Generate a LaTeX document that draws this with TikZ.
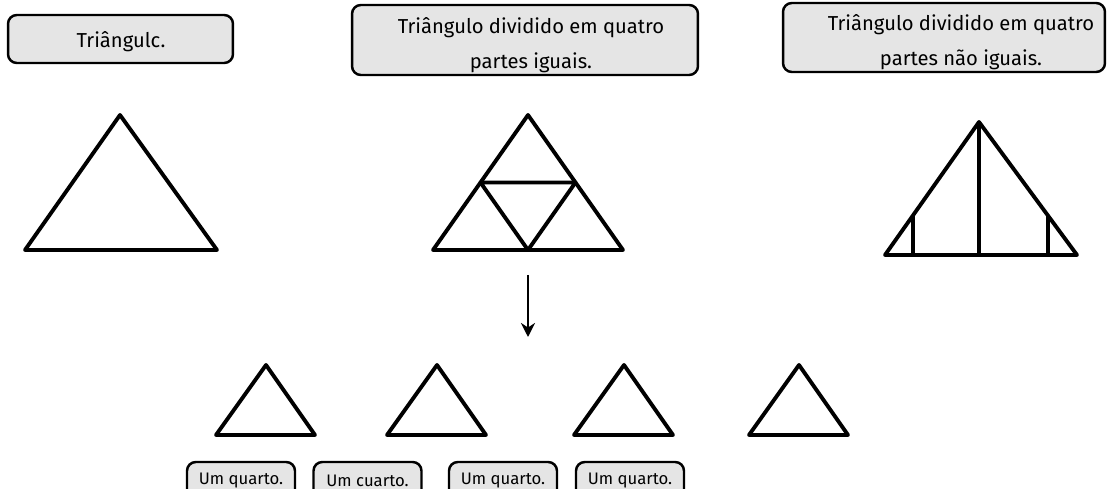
\documentclass[tikz,border=0pt]{standalone}
\usepackage{fontspec}
\setmainfont{Fira Sans}
\usetikzlibrary{calc, arrows.meta}

\begin{document}
\begin{tikzpicture}[x=0.02cm, y=-0.02cm, line width=2.2pt, line join=round]
    \tikzset{
      caixa/.style={draw=black, line width=1.4pt, fill=black!10, rounded corners=5pt, inner sep=0pt},
      rotulo/.style={font=\fontsize{11.5}{20}\selectfont, align=center, inner sep=0pt},
      rotulinho/.style={font=\fontsize{9.5}{11}\selectfont, inner sep=0pt},
      seta/.style={line width=1pt, -{Stealth[length=8pt, width=8pt]}},
    }
    \useasboundingbox (0,0) rectangle (1107,489);
    \clip (0,0) rectangle (1107,489);

    % caixas de cima
    \node [caixa, minimum width=4.5cm, minimum height=0.96cm]  (caixaA) at (120.5,39) {};
    \node [caixa, minimum width=6.92cm, minimum height=1.4cm]  (caixaB) at (525,40) {};
    \node [caixa, minimum width=6.44cm, minimum height=1.38cm] (caixaC) at (944,37.5) {};
    \node [rotulo] (textoA) at (121,42) {Triângulc.};
    \node [rotulo] (textoB) at (531,45) {Triângulo dividido em quatro\\partes iguais.};
    \node [rotulo] (textoC) at (961,42) {Triângulo dividido em quatro\\partes não iguais.};

    % triangulo inteiro
    \coordinate (A1) at (25,250);
    \coordinate (A2) at (120,115);
    \coordinate (A3) at (217,250);
    \draw (A1) -- (A2) -- (A3) -- cycle;

    % quatro partes iguais
    \coordinate (B1) at (433,250);
    \coordinate (B2) at (528,115);
    \coordinate (B3) at (623,250);
    \coordinate (B12) at ($ (B1)!.5!(B2) $);
    \coordinate (B23) at ($ (B2)!.5!(B3) $);
    \coordinate (B13) at ($ (B1)!.5!(B3) $);
    \draw (B1) -- (B2) -- (B3) -- cycle;
    \draw (B12) -- (B23) -- (B13) -- cycle;

    % quatro partes nao iguais
    \coordinate (C1) at (885,255);
    \coordinate (C2) at (979,122);
    \coordinate (C3) at (1077,255);
    \coordinate (C12) at ($ (C1)!.3!(C2) $);
    \coordinate (C32) at ($ (C3)!.3!(C2) $);
    \draw (C1) -- (C2) -- (C3) -- cycle;
    \draw (C2) -- (C2 |- C1);
    \draw (C12) -- (C12 |- C1);
    \draw (C32) -- (C32 |- C1);

    % seta
    \coordinate (topo) at (528,275);
    \coordinate (fundo) at (528,337);
    \draw [seta] (topo) -- (fundo);

    % quartos
    \foreach \n/\x in {1/266, 2/437, 3/624, 4/799}
      \draw (\x-50,435) coordinate (q\n a) -- (\x,365) coordinate (q\n b)
            -- (\x+49,435) coordinate (q\n c) -- cycle;

    \foreach \n/\x/\t in {1/241/Um quarto., 2/367.5/Um cuarto., 3/503/Um quarto., 4/630/Um quarto.} {
      \node [caixa, minimum width=2.16cm, minimum height=0.8cm] (quarto\n) at (\x,482) {};
      \node [rotulinho] (txtquarto\n) at (\x,480.5) {\t};
    }
\end{tikzpicture}
\end{document}
